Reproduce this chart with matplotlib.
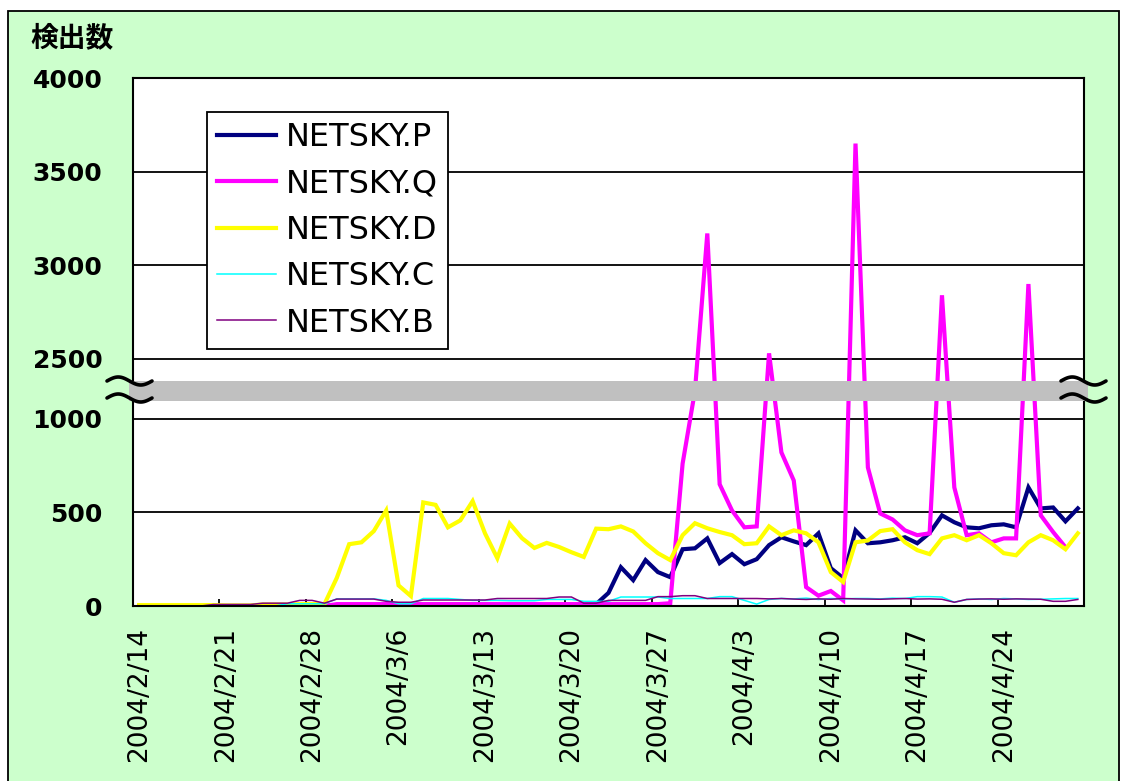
import numpy as np
import pandas as pd
import matplotlib
matplotlib.use('Agg')
import matplotlib.pyplot as plt
import matplotlib.dates as mdates
from matplotlib.lines import Line2D
from matplotlib.patches import Rectangle

W, H = 1125, 781

# daily counts, 2004/2/14 .. 2004/4/30 (one row per week)
dates = pd.date_range('2004-02-14', '2004-04-30', freq='D')

netsky_p = [0, 0, 0, 0, 0, 0, 0,
            0, 0, 0, 0, 0, 0, 0,
            0, 0, 5, 5, 5, 5, 5,
            5, 5, 5, 5, 5, 5, 5,
            5, 5, 5, 5, 5, 5, 5,
            5, 5, 10, 70, 207, 138, 245,
            181, 154, 303, 308, 361, 229, 277,
            223, 250, 325, 367, 345, 325, 388,
            202, 149, 404, 335, 340, 351, 367,
            335, 390, 484, 447, 420, 415, 431,
            436, 420, 633, 521, 526, 452, 521]
netsky_q = [0, 0, 0, 0, 0, 0, 0,
            0, 0, 0, 0, 0, 0, 0,
            0, 0, 10, 10, 10, 10, 10,
            10, 10, 10, 10, 10, 10, 10,
            10, 10, 10, 10, 10, 10, 10,
            10, 10, 10, 10, 10, 10, 10,
            10, 15, 760, 1700, 3170, 650, 510,
            420, 425, 2530, 820, 670, 101, 55,
            80, 30, 3650, 740, 494, 462, 404,
            378, 388, 2840, 633, 378, 388, 340,
            361, 361, 2900, 484, 395, 314, np.nan]
netsky_d = [5, 5, 5, 5, 5, 5, 5,
            3, 3, 3, 8, 8, 8, 10,
            10, 10, 150, 330, 340, 400, 510,
            110, 53, 553, 540, 420, 457, 560,
            388, 255, 440, 362, 310, 337, 315,
            287, 262, 413, 410, 425, 398, 335,
            282, 245, 378, 442, 415, 395, 378,
            330, 335, 425, 378, 404, 388, 340,
            181, 128, 340, 350, 400, 410, 340,
            298, 277, 361, 378, 351, 378, 335,
            282, 271, 340, 378, 351, 303, 388]
netsky_c = [0, 0, 0, 0, 0, 0, 0,
            0, 0, 0, 0, 0, 12, 12,
            12, 12, 38, 38, 38, 38, 30,
            12, 12, 40, 40, 40, 35, 30,
            30, 30, 28, 28, 28, 35, 35,
            35, 25, 25, 25, 48, 48, 48,
            48, 40, 40, 40, 40, 50, 50,
            30, 10, 35, 40, 38, 42, 35,
            40, 38, 40, 40, 38, 42, 40,
            50, 50, 48, 20, 35, 38, 35,
            40, 38, 35, 36, 38, 40, 40]
netsky_b = [0, 0, 0, 0, 0, 0, 8,
            8, 8, 8, 15, 15, 15, 30,
            30, 15, 37, 37, 37, 37, 25,
            20, 20, 32, 32, 32, 32, 32,
            32, 40, 40, 40, 40, 40, 48,
            48, 15, 15, 30, 30, 30, 30,
            50, 50, 55, 55, 40, 40, 40,
            40, 40, 38, 40, 37, 35, 38,
            36, 40, 38, 37, 36, 38, 40,
            37, 38, 36, 20, 35, 37, 38,
            36, 38, 37, 36, 25, 25, 35]

series = [('NETSKY.P', netsky_p, '#000080', 3.0),
          ('NETSKY.Q', netsky_q, '#FF00FF', 3.0),
          ('NETSKY.D', netsky_d, '#FFFF00', 3.0),
          ('NETSKY.C', netsky_c, '#00FFFF', 1.1),
          ('NETSKY.B', netsky_b, '#800080', 1.1)]

yticks = [0, 500, 1000, 2500, 3000, 3500, 4000]
xtick_labels = ['2004/2/14', '2004/2/21', '2004/2/28', '2004/3/6',
                '2004/3/13', '2004/3/20', '2004/3/27', '2004/4/3',
                '2004/4/10', '2004/4/17', '2004/4/24']

# broken axis: 1000..2500 squeezed into a short band
LO, HI, GAP = 1000.0, 2500.0, 319.0


def _fwd(v):
    v = np.asarray(v, dtype=float)
    return np.where(v <= LO, v,
                    np.where(v >= HI, v - HI + LO + GAP,
                             LO + (v - LO) * GAP / (HI - LO)))


def _inv(u):
    u = np.asarray(u, dtype=float)
    return np.where(u <= LO, u,
                    np.where(u >= LO + GAP, u - LO - GAP + HI,
                             LO + (u - LO) * (HI - LO) / GAP))


def _px(x, y):
    # pixel position (from top-left) -> figure fraction
    return np.asarray(x) / W, 1 - np.asarray(y) / H


def _wave(fig, x0, yc, width=45, amp=4):
    t = np.linspace(0, 1, 40)
    xs, ys = _px(x0 + width * t, yc - amp * np.sin(2 * np.pi * t))
    fig.add_artist(Line2D(xs, ys, transform=fig.transFigure,
                          color='black', lw=2.6, zorder=6,
                          solid_capstyle='round'))


fig = plt.figure(figsize=(W / 100, H / 100), dpi=100)
fig.patch.set_facecolor('white')
fig.add_artist(Rectangle((8 / W, -0.02), 1111 / W, 1 - 11 / H + 0.02,
                         transform=fig.transFigure, facecolor='#CCFFCC',
                         edgecolor='black', lw=1.3, zorder=-1))

ax = fig.add_axes([133 / W, 1 - 606 / H, 951 / W, 528 / H])
ax.set_facecolor('white')
ax.set_yscale('function', functions=(_fwd, _inv))

x = mdates.date2num(dates) + 0.5   # points sit in the middle of each day slot
for label, values, color, lw in series:
    ax.plot(x, values, color=color, lw=lw, label=label,
            solid_joinstyle='miter')

x0 = mdates.date2num(dates[0])
ax.set_xlim(x0, x0 + len(dates))
ax.set_ylim(0, 4000)

ax.set_yticks(yticks)
ax.set_yticklabels([str(v) for v in yticks], fontsize=18,
                   fontweight='bold', family='DejaVu Sans')
ax.tick_params(axis='y', length=0, pad=22)
ax.yaxis.grid(True, color='black', lw=1.3)
ax.set_axisbelow(True)

week_pos = mdates.date2num(dates[::7])
ax.set_xticks(week_pos)
ax.set_xticklabels([])
ax.set_xticks(week_pos + 0.5, minor=True)
ax.set_xticklabels(xtick_labels, minor=True, rotation=90,
                   fontsize=19, family='DejaVu Sans')
ax.tick_params(axis='x', which='major', direction='in', length=5,
               width=1.3, color='black')
ax.tick_params(axis='x', which='minor', length=0, pad=15)

for sp in ax.spines.values():
    sp.set_color('black')
    sp.set_linewidth(1.5)

# grey band hiding the cut
ax.add_patch(Rectangle((-0.004, 1450), 1.008, 500,
                       transform=ax.get_yaxis_transform(),
                       facecolor='#C0C0C0', edgecolor='none',
                       clip_on=False, zorder=5))
for xw in (107, 1061):
    _wave(fig, xw, 381)
    _wave(fig, xw, 398)

leg = ax.legend(loc='upper left', bbox_to_anchor=((207 - 133) / 951,
                                                 (606 - 112) / 528),
                borderaxespad=0, frameon=True, fancybox=False,
                prop={'family': 'DejaVu Sans', 'size': 23},
                handlelength=1.85, handletextpad=0.3, labelspacing=0.48,
                borderpad=0.32)
leg.get_frame().set_edgecolor('black')
leg.get_frame().set_linewidth(1.3)
leg.get_frame().set_alpha(1)
leg.set_zorder(7)

fig.text(30 / W, 1 - 38 / H, '検出数', fontsize=20, fontweight='bold',
         family=['Noto Sans CJK JP', 'DejaVu Sans'], va='center', ha='left')

fig.savefig('out.png', dpi=100)
